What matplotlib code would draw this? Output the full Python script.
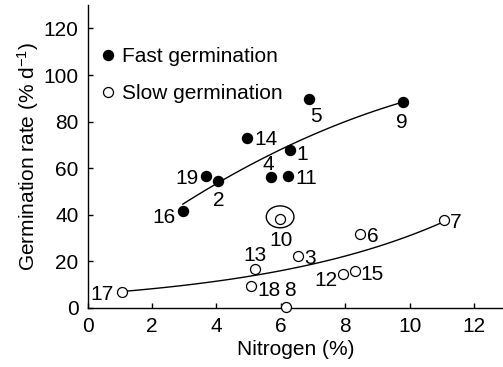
import numpy as np
import matplotlib
matplotlib.use("Agg")
import matplotlib.pyplot as plt
from matplotlib.patches import Ellipse

plt.rcParams["font.family"] = ["Liberation Sans", "DejaVu Sans"]
plt.rcParams["mathtext.fontset"] = "custom"
plt.rcParams["mathtext.rm"] = "Liberation Sans"
plt.rcParams["mathtext.it"] = "Liberation Sans"

# data
fast_id = ["16", "19", "2", "4", "11", "14", "1", "5", "9"]
fast_n = [2.96, 3.69, 4.06, 5.69, 6.24, 4.95, 6.29, 6.88, 9.81]
fast_rate = [41.6, 56.6, 54.4, 56.0, 56.6, 73.0, 67.7, 89.7, 88.4]

slow_id = ["17", "13", "18", "8", "10", "3", "6", "12", "15", "7"]
slow_n = [1.06, 5.20, 5.07, 6.17, 5.98, 6.52, 8.47, 7.92, 8.30, 11.06]
slow_rate = [6.7, 16.6, 9.4, 0.3, 38.0, 22.3, 31.6, 14.4, 15.9, 37.7]

# fitted trend lines
fast_fit = [15.63, 10.79, -0.343]   # a + b*x + c*x^2
slow_fit = [5.9, 0.166]             # a * exp(b*x)

# label placement: (dx px, dy px, ha)
label_pos = {
    "16": (-7, -4, "right"), "19": (-8, 0, "right"), "2": (0, -17, "center"),
    "4": (-2, 15, "center"), "11": (7, 0, "left"), "14": (7, 0, "left"),
    "1": (6, -2, "left"), "5": (7, -16, "center"), "9": (-2, -18, "center"),
    "17": (-8, 0, "right"), "13": (0, 16, "center"), "18": (7, -2, "left"),
    "8": (4, 19, "center"), "10": (1, -19, "center"), "3": (7, -1, "left"),
    "6": (7, 0, "left"), "12": (-5, -4, "right"), "15": (6, -2, "left"),
    "7": (6, 0, "left"),
}

fig = plt.figure(figsize=(5.03, 3.67), dpi=100)
ax = fig.add_axes([0.174, 0.161, 0.826, 0.825])

# curves
xf = np.linspace(min(fast_n), max(fast_n), 100)
ax.plot(xf, fast_fit[0] + fast_fit[1] * xf + fast_fit[2] * xf ** 2,
        color="black", lw=1, zorder=1)
xs = np.linspace(min(slow_n), max(slow_n), 100)
ax.plot(xs, slow_fit[0] * np.exp(slow_fit[1] * xs), color="black", lw=1, zorder=1)

ax.plot(fast_n, fast_rate, "o", ms=7.2, mfc="black", mec="black",
        ls="none", label="Fast germination", zorder=3)
ax.plot(slow_n, slow_rate, "o", ms=7.2, mfc="white", mec="black", mew=0.9,
        ls="none", label="Slow germination", zorder=3, clip_on=False)

# ring around point 10
i10 = slow_id.index("10")
ax.add_patch(Ellipse((slow_n[i10], slow_rate[i10] + 1.1), 0.86, 9.4,
                     fill=False, ec="black", lw=1, zorder=2))

for ids, xs_, ys_ in [(fast_id, fast_n, fast_rate), (slow_id, slow_n, slow_rate)]:
    for t, x, y in zip(ids, xs_, ys_):
        dx, dy, ha = label_pos[t]
        ax.annotate(t, (x, y), xytext=(dx, dy), textcoords="offset pixels",
                    ha=ha, va="center_baseline", fontsize=15)

ax.set_xlim(0, 12.9)
ax.set_ylim(0, 130)
ax.set_xticks(range(0, 13, 2))
ax.set_yticks(range(0, 121, 20))
ax.tick_params(direction="in", length=3.6, width=1, labelsize=15, pad=6.5)
for s in ["top", "right"]:
    ax.spines[s].set_visible(False)
for s in ["left", "bottom"]:
    ax.spines[s].set_linewidth(1)

ax.set_xlabel("Nitrogen (%)", fontsize=15, labelpad=3)
ax.set_ylabel("Germination rate (% d$^{\\mathregular{-1}}$)", fontsize=15, labelpad=2)

ax.legend(loc="upper left", bbox_to_anchor=(0.0, 0.91), frameon=False,
          fontsize=15, handlelength=0.6, handletextpad=0.35, labelspacing=0.87,
          borderaxespad=0.3)

fig.savefig("out.png", dpi=100)
